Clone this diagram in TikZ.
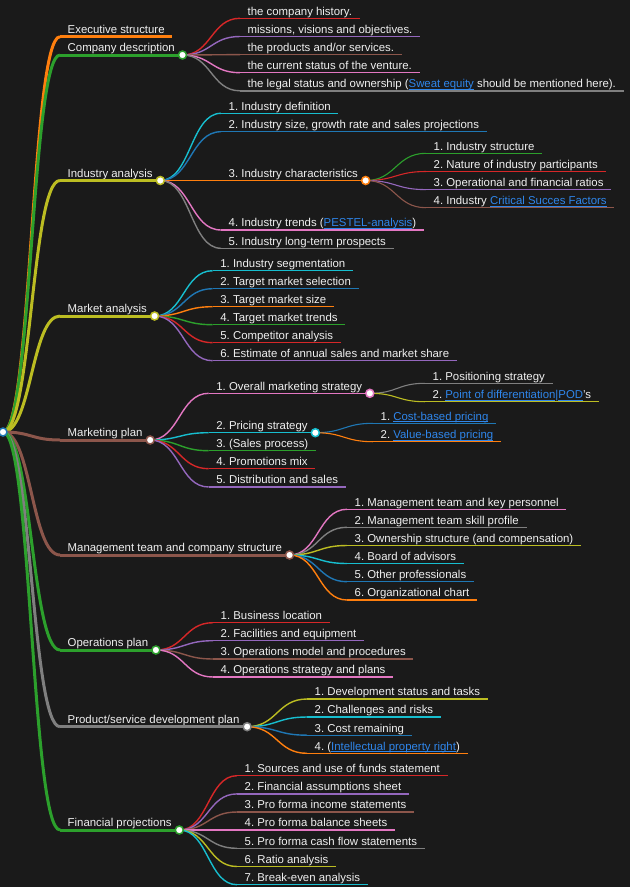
\documentclass[tikz,border=0pt]{standalone}
\usepackage{fontspec}
\setmainfont{Liberation Sans}
\usetikzlibrary{calc}
\frenchspacing
\definecolor{bgc}{HTML}{1A1A1A}
\definecolor{fgc}{HTML}{F0F0F0}
\definecolor{linkc}{HTML}{2F86EB}
\definecolor{blue10}{HTML}{1F77B4}
\definecolor{orange10}{HTML}{FF7F0E}
\definecolor{green10}{HTML}{2CA02C}
\definecolor{red10}{HTML}{D62728}
\definecolor{purple10}{HTML}{9467BD}
\definecolor{brown10}{HTML}{8C564B}
\definecolor{pink10}{HTML}{E377C2}
\definecolor{grey10}{HTML}{7F7F7F}
\definecolor{olive10}{HTML}{BCBD22}
\definecolor{cyan10}{HTML}{17BECF}
\newsavebox{\lnkbox}
\newcommand{\lnk}[1]{\sbox{\lnkbox}{\textcolor{linkc}{#1}}\textcolor{linkc}{\rlap{\rule[-1.8pt]{\wd\lnkbox}{0.7pt}}}\usebox{\lnkbox}}

\begin{document}
\begin{tikzpicture}[x=1pt,y=-1pt,
  txt/.style={anchor=south west,inner xsep=7.5pt,inner ysep=0pt,text height=8.5pt,text depth=3pt,text=fgc,font=\fontsize{11.4}{13}\selectfont},
  lv1/.style={txt,append after command={(\tikzlastnode.south west) edge[draw=#1,line width=3pt] (\tikzlastnode.south east)}},
  lv2/.style={txt,append after command={(\tikzlastnode.south west) edge[draw=#1,line width=1.4pt] (\tikzlastnode.south east)}},
  lv3/.style={txt,append after command={(\tikzlastnode.south west) edge[draw=#1,line width=1.1pt] (\tikzlastnode.south east)}},
  w1/.style={line width=3pt},
  w2/.style={line width=1.4pt},
  w3/.style={line width=1.1pt},
  link/.style={to path={.. controls ($(\tikztostart)!.5!(\tikztotarget |- \tikztostart)$) and ($(\tikztotarget)!.5!(\tikztostart |- \tikztotarget)$) .. (\tikztotarget)}},
  dot/.style={circle,draw=#1,fill=white,line width=1.5pt,inner sep=0pt,minimum size=8pt}]
\useasboundingbox (0,0) rectangle (630,887);
\fill[bgc] (0,0) rectangle (630,887);
\coordinate (root) at (3,432);
\node[lv1=orange10] (exec) at (60,36.7) {Executive structure};
\node[lv1=green10] (cdesc) at (60,55) {Company description};
\node[lv1=olive10] (ind) at (60,180.5) {Industry analysis};
\node[lv1=olive10] (mkt) at (60,316) {Market analysis};
\node[lv1=brown10] (mplan) at (60,440) {Marketing plan};
\node[lv1=brown10] (mgmt) at (60,555) {Management team and company structure};
\node[lv1=green10] (ops) at (60,650) {Operations plan};
\node[lv1=grey10] (prod) at (60,726.7) {Product/service development plan};
\node[lv1=green10] (fin) at (60,830) {Financial projections};

\node[lv2=red10] (cdesc1) at (240,18.3) {the company history.};
\node[lv2=purple10] (cdesc2) at (240,36.5) {missions, visions and objectives.};
\node[lv2=brown10] (cdesc3) at (240,54.6) {the products and/or services.};
\node[lv2=pink10] (cdesc4) at (240,72.7) {the current status of the venture.};
\node[lv2=grey10] (cdesc5) at (240,90.8) {the legal status and ownership (\lnk{Sweat equity} should be mentioned here).};

\node[lv2=cyan10] (ind1) at (221,113.3) {1. Industry definition};
\node[lv2=blue10] (ind2) at (221,131.7) {2. Industry size, growth rate and sales projections};
\node[lv2=orange10] (ind3) at (221,180.5) {3. Industry characteristics};
\node[lv2=pink10] (ind4) at (221,230) {4. Industry trends (\lnk{PESTEL-analysis})};
\node[lv2=grey10] (ind5) at (221,248.3) {5. Industry long-term prospects};
\node[lv3=green10] (ind31) at (426,153.3) {1. Industry structure};
\node[lv3=red10] (ind32) at (426,171.5) {2. Nature of industry participants};
\node[lv3=purple10] (ind33) at (426,189.6) {3. Operational and financial ratios};
\node[lv3=brown10] (ind34) at (426,207.7) {4. Industry \lnk{Critical Succes Factors}};

\node[lv2=cyan10] (mkt1) at (212.7,270.7) {1. Industry segmentation};
\node[lv2=blue10] (mkt2) at (212.7,288.7) {2. Target market selection};
\node[lv2=orange10] (mkt3) at (212.7,306.7) {3. Target market size};
\node[lv2=green10] (mkt4) at (212.7,324.7) {4. Target market trends};
\node[lv2=red10] (mkt5) at (212.7,342.7) {5. Competitor analysis};
\node[lv2=purple10] (mkt6) at (212.7,360.7) {6. Estimate of annual sales and market share};

\node[lv2=pink10] (mplan1) at (208.7,393.3) {1. Overall marketing strategy};
\node[lv2=cyan10] (mplan2) at (208.7,432.7) {2. Pricing strategy};
\node[lv2=green10] (mplan3) at (208.7,450.7) {3. (Sales process)};
\node[lv2=red10] (mplan4) at (208.7,468.7) {4. Promotions mix};
\node[lv2=purple10] (mplan5) at (208.7,487) {5. Distribution and sales};
\node[lv3=grey10] (mplan11) at (425,383.3) {1. Positioning strategy};
\node[lv3=olive10] (mplan12) at (425,401.7) {2. \lnk{Point of differentiation}\textcolor{linkc}{|}\lnk{POD}\char39{}s};
\node[lv3=blue10] (mplan21) at (373,423.3) {1. \lnk{Cost-based pricing}};
\node[lv3=orange10] (mplan22) at (373,441.7) {2. \lnk{Value-based pricing}};

\node[lv2=pink10] (mgmt1) at (347,509.3) {1. Management team and key personnel};
\node[lv2=grey10] (mgmt2) at (347,527.3) {2. Management team skill profile};
\node[lv2=olive10] (mgmt3) at (347,545.5) {3. Ownership structure (and compensation)};
\node[lv2=cyan10] (mgmt4) at (347,563.5) {4. Board of advisors};
\node[lv2=blue10] (mgmt5) at (347,581.7) {5. Other professionals};
\node[lv2=orange10] (mgmt6) at (347,600) {6. Organizational chart};

\node[lv2=red10] (ops1) at (213,622.7) {1. Business location};
\node[lv2=purple10] (ops2) at (213,640.7) {2. Facilities and equipment};
\node[lv2=brown10] (ops3) at (213,659) {3. Operations model and procedures};
\node[lv2=pink10] (ops4) at (213,677) {4. Operations strategy and plans};

\node[lv2=olive10] (prod1) at (307,699) {1. Development status and tasks};
\node[lv2=cyan10] (prod2) at (307,717) {2. Challenges and risks};
\node[lv2=blue10] (prod3) at (307,735.2) {3. Cost remaining};
\node[lv2=orange10] (prod4) at (307,753.3) {4. (\lnk{Intellectual property right})};

\node[lv2=red10] (fin1) at (237,775.7) {1. Sources and use of funds statement};
\node[lv2=purple10] (fin2) at (237,793.9) {2. Financial assumptions sheet};
\node[lv2=brown10] (fin3) at (237,812) {3. Pro forma income statements};
\node[lv2=pink10] (fin4) at (237,830) {4. Pro forma balance sheets};
\node[lv2=grey10] (fin5) at (237,848.3) {5. Pro forma cash flow statements};
\node[lv2=olive10] (fin6) at (237,866.5) {6. Ratio analysis};
\node[lv2=cyan10] (fin7) at (237,884.7) {7. Break-even analysis};

\draw[link,w1,orange10] (root) to (exec.south west);
\draw[link,w1,green10] (root) to (cdesc.south west);
\draw[link,w1,olive10] (root) to (ind.south west);
\draw[link,w1,olive10] (root) to (mkt.south west);
\draw[link,w1,brown10] (root) to (mplan.south west);
\draw[link,w1,brown10] (root) to (mgmt.south west);
\draw[link,w1,green10] (root) to (ops.south west);
\draw[link,w1,grey10] (root) to (prod.south west);
\draw[link,w1,green10] (root) to (fin.south west);

\draw[link,w2,red10] (cdesc.south east) to (cdesc1.south west);
\draw[link,w2,purple10] (cdesc.south east) to (cdesc2.south west);
\draw[link,w2,brown10] (cdesc.south east) to (cdesc3.south west);
\draw[link,w2,pink10] (cdesc.south east) to (cdesc4.south west);
\draw[link,w2,grey10] (cdesc.south east) to (cdesc5.south west);

\draw[link,w2,cyan10] (ind.south east) to (ind1.south west);
\draw[link,w2,blue10] (ind.south east) to (ind2.south west);
\draw[link,w2,orange10] (ind.south east) to (ind3.south west);
\draw[link,w2,pink10] (ind.south east) to (ind4.south west);
\draw[link,w2,grey10] (ind.south east) to (ind5.south west);
\draw[link,w3,green10] (ind3.south east) to (ind31.south west);
\draw[link,w3,red10] (ind3.south east) to (ind32.south west);
\draw[link,w3,purple10] (ind3.south east) to (ind33.south west);
\draw[link,w3,brown10] (ind3.south east) to (ind34.south west);

\draw[link,w2,cyan10] (mkt.south east) to (mkt1.south west);
\draw[link,w2,blue10] (mkt.south east) to (mkt2.south west);
\draw[link,w2,orange10] (mkt.south east) to (mkt3.south west);
\draw[link,w2,green10] (mkt.south east) to (mkt4.south west);
\draw[link,w2,red10] (mkt.south east) to (mkt5.south west);
\draw[link,w2,purple10] (mkt.south east) to (mkt6.south west);

\draw[link,w2,pink10] (mplan.south east) to (mplan1.south west);
\draw[link,w2,cyan10] (mplan.south east) to (mplan2.south west);
\draw[link,w2,green10] (mplan.south east) to (mplan3.south west);
\draw[link,w2,red10] (mplan.south east) to (mplan4.south west);
\draw[link,w2,purple10] (mplan.south east) to (mplan5.south west);
\draw[link,w3,grey10] (mplan1.south east) to (mplan11.south west);
\draw[link,w3,olive10] (mplan1.south east) to (mplan12.south west);
\draw[link,w3,blue10] (mplan2.south east) to (mplan21.south west);
\draw[link,w3,orange10] (mplan2.south east) to (mplan22.south west);

\draw[link,w2,pink10] (mgmt.south east) to (mgmt1.south west);
\draw[link,w2,grey10] (mgmt.south east) to (mgmt2.south west);
\draw[link,w2,olive10] (mgmt.south east) to (mgmt3.south west);
\draw[link,w2,cyan10] (mgmt.south east) to (mgmt4.south west);
\draw[link,w2,blue10] (mgmt.south east) to (mgmt5.south west);
\draw[link,w2,orange10] (mgmt.south east) to (mgmt6.south west);

\draw[link,w2,red10] (ops.south east) to (ops1.south west);
\draw[link,w2,purple10] (ops.south east) to (ops2.south west);
\draw[link,w2,brown10] (ops.south east) to (ops3.south west);
\draw[link,w2,pink10] (ops.south east) to (ops4.south west);

\draw[link,w2,olive10] (prod.south east) to (prod1.south west);
\draw[link,w2,cyan10] (prod.south east) to (prod2.south west);
\draw[link,w2,blue10] (prod.south east) to (prod3.south west);
\draw[link,w2,orange10] (prod.south east) to (prod4.south west);

\draw[link,w2,red10] (fin.south east) to (fin1.south west);
\draw[link,w2,purple10] (fin.south east) to (fin2.south west);
\draw[link,w2,brown10] (fin.south east) to (fin3.south west);
\draw[link,w2,pink10] (fin.south east) to (fin4.south west);
\draw[link,w2,grey10] (fin.south east) to (fin5.south west);
\draw[link,w2,olive10] (fin.south east) to (fin6.south west);
\draw[link,w2,cyan10] (fin.south east) to (fin7.south west);

\node[dot=blue10] (root-dot) at (root) {};
\node[dot=green10] (cdesc-dot) at (cdesc.south east) {};
\node[dot=olive10] (ind-dot) at (ind.south east) {};
\node[dot=orange10] (ind3-dot) at (ind3.south east) {};
\node[dot=olive10] (mkt-dot) at (mkt.south east) {};
\node[dot=brown10] (mplan-dot) at (mplan.south east) {};
\node[dot=pink10] (mplan1-dot) at (mplan1.south east) {};
\node[dot=cyan10] (mplan2-dot) at (mplan2.south east) {};
\node[dot=brown10] (mgmt-dot) at (mgmt.south east) {};
\node[dot=green10] (ops-dot) at (ops.south east) {};
\node[dot=grey10] (prod-dot) at (prod.south east) {};
\node[dot=green10] (fin-dot) at (fin.south east) {};
\end{tikzpicture}
\end{document}
